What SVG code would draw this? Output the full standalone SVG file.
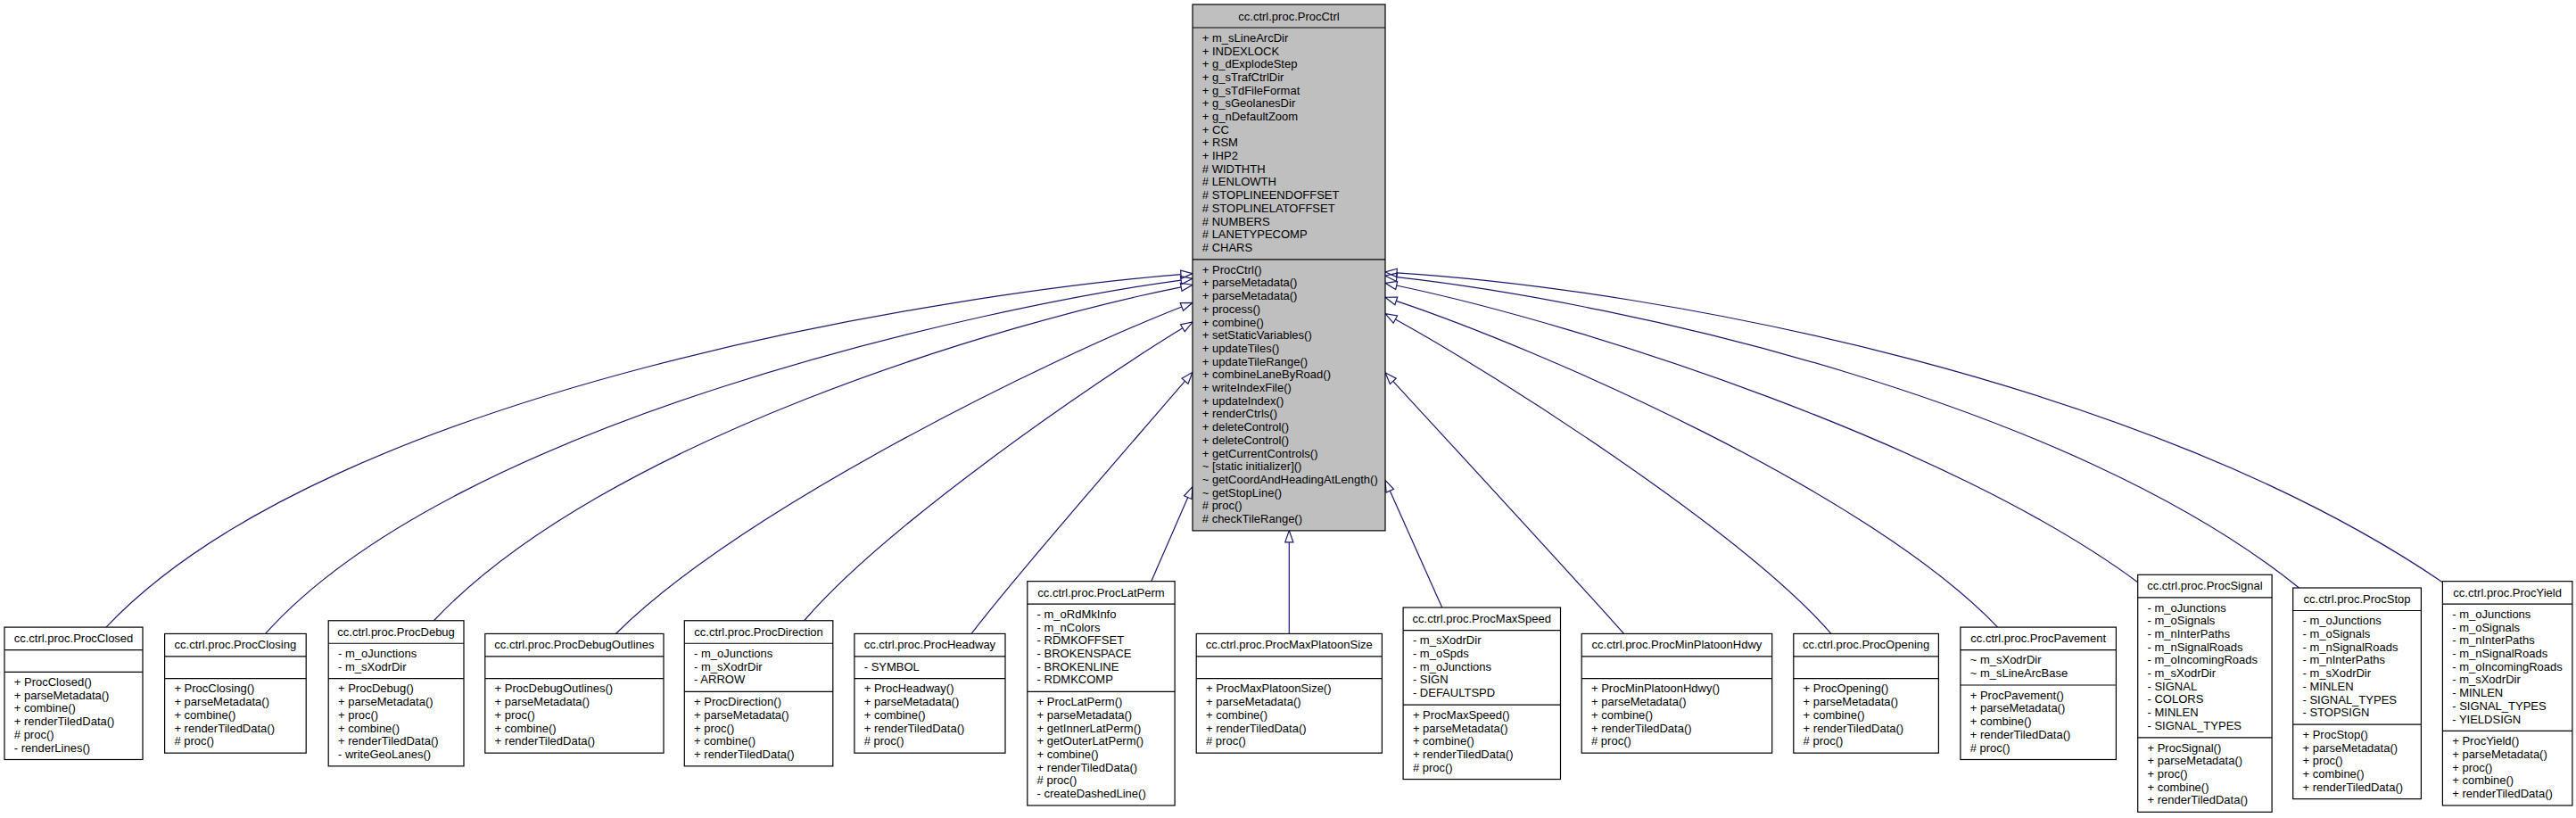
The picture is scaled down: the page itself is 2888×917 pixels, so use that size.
<svg xmlns="http://www.w3.org/2000/svg" width="2888" height="917" viewBox="0 0 2888 917">
<style>
.box{fill:#fff;stroke:#000;stroke-width:1.2}
.base{fill:#bfbfbf;stroke:#000;stroke-width:1.2}
.sep{stroke:#000;stroke-width:1.2}
text{font-family:"Liberation Sans",Arial,Helvetica,sans-serif;font-size:13px;fill:#000}
.t{text-anchor:middle}
.e{fill:none;stroke:#191970;stroke-width:1.2;marker-end:url(#tri)}
</style>
<defs>
<marker id="tri" markerUnits="userSpaceOnUse" markerWidth="16" markerHeight="12" viewBox="-1 -6 16 12" refX="0" refY="0" orient="auto" overflow="visible">
<path d="M0,-4.6 L13,0 L0,4.6 Z" fill="none" stroke="#191970" stroke-width="1.2"/>
</marker>
</defs>
<rect width="2888" height="917" fill="#fff"/>
<g id="connectors">
<path class="e" d="M119,703.1 C373,434 1075,327.7 1324,307.7"/>
<path class="e" d="M297.5,710.45 C510.6,472 1106,343.8 1324.1,314.1"/>
<path class="e" d="M486.4,695.75 C678.5,492.4 1128,361 1324.2,321.8"/>
<path class="e" d="M690.4,710.45 C832.6,569.9 1175.8,402.1 1324.9,344"/>
<path class="e" d="M901.6,695.75 C992.6,589.6 1223.4,430.3 1325.9,367.8"/>
<path class="e" d="M1089.1,710.45 C1143.5,639 1270,495.6 1328.5,427.2"/>
<path class="e" d="M1290.7,651.65 L1331.8,557.6"/>
<path class="e" d="M1445.3,710.45 L1445.3,607.9"/>
<path class="e" d="M1616.7,681.05 L1558.3,550.2"/>
<path class="e" d="M1820.6,710.45 C1760.9,643.3 1622.6,493.6 1561.8,427.3"/>
<path class="e" d="M2052.9,710.45 C1954.9,597.1 1678.3,420.7 1564.4,358"/>
<path class="e" d="M2239.6,703.1 C2094.7,551.3 1726.5,391.5 1565.3,337.4"/>
<path class="e" d="M2396.7,652.7 C2187.7,498 1781.1,365.3 1565.7,320"/>
<path class="e" d="M2577.5,659 C2321.1,451.7 1824.3,339.6 1565.9,310.7"/>
<path class="e" d="M2738.4,652.7 C2408,427.9 1865.4,325 1566,305.8"/>
</g>
<g id="ProcCtrl" transform="translate(1337,5)">
<rect class="base" width="216" height="589.9"/>
<line class="sep" x1="0" y1="26" x2="216" y2="26"/>
<line class="sep" x1="0" y1="285.9" x2="216" y2="285.9"/>
<text class="t" x="108" y="17.5">cc.ctrl.proc.ProcCtrl</text>
<text x="10.8" y="41.8">+ m_sLineArcDir<tspan x="10.8" dy="14.7">+ INDEXLOCK</tspan><tspan x="10.8" dy="14.7">+ g_dExplodeStep</tspan><tspan x="10.8" dy="14.7">+ g_sTrafCtrlDir</tspan><tspan x="10.8" dy="14.7">+ g_sTdFileFormat</tspan><tspan x="10.8" dy="14.7">+ g_sGeolanesDir</tspan><tspan x="10.8" dy="14.7">+ g_nDefaultZoom</tspan><tspan x="10.8" dy="14.7">+ CC</tspan><tspan x="10.8" dy="14.7">+ RSM</tspan><tspan x="10.8" dy="14.7">+ IHP2</tspan><tspan x="10.8" dy="14.7"># WIDTHTH</tspan><tspan x="10.8" dy="14.7"># LENLOWTH</tspan><tspan x="10.8" dy="14.7"># STOPLINEENDOFFSET</tspan><tspan x="10.8" dy="14.7"># STOPLINELATOFFSET</tspan><tspan x="10.8" dy="14.7"># NUMBERS</tspan><tspan x="10.8" dy="14.7"># LANETYPECOMP</tspan><tspan x="10.8" dy="14.7"># CHARS</tspan></text>
<text x="10.8" y="301.7">+ ProcCtrl()<tspan x="10.8" dy="14.7">+ parseMetadata()</tspan><tspan x="10.8" dy="14.7">+ parseMetadata()</tspan><tspan x="10.8" dy="14.7">+ process()</tspan><tspan x="10.8" dy="14.7">+ combine()</tspan><tspan x="10.8" dy="14.7">+ setStaticVariables()</tspan><tspan x="10.8" dy="14.7">+ updateTiles()</tspan><tspan x="10.8" dy="14.7">+ updateTileRange()</tspan><tspan x="10.8" dy="14.7">+ combineLaneByRoad()</tspan><tspan x="10.8" dy="14.7">+ writeIndexFile()</tspan><tspan x="10.8" dy="14.7">+ updateIndex()</tspan><tspan x="10.8" dy="14.7">+ renderCtrls()</tspan><tspan x="10.8" dy="14.7">+ deleteControl()</tspan><tspan x="10.8" dy="14.7">+ deleteControl()</tspan><tspan x="10.8" dy="14.7">+ getCurrentControls()</tspan><tspan x="10.8" dy="14.7">~ [static initializer]()</tspan><tspan x="10.8" dy="14.7">~ getCoordAndHeadingAtLength()</tspan><tspan x="10.8" dy="14.7">~ getStopLine()</tspan><tspan x="10.8" dy="14.7"># proc()</tspan><tspan x="10.8" dy="14.7"># checkTileRange()</tspan></text>
</g>
<g id="ProcClosed" transform="translate(5,703.1)">
<rect class="box" width="155" height="148.4"/>
<line class="sep" x1="0" y1="25.5" x2="155" y2="25.5"/>
<line class="sep" x1="0" y1="50.2" x2="155" y2="50.2"/>
<text class="t" x="77.5" y="17">cc.ctrl.proc.ProcClosed</text>
<text x="10.8" y="66">+ ProcClosed()<tspan x="10.8" dy="14.7">+ parseMetadata()</tspan><tspan x="10.8" dy="14.7">+ combine()</tspan><tspan x="10.8" dy="14.7">+ renderTiledData()</tspan><tspan x="10.8" dy="14.7"># proc()</tspan><tspan x="10.8" dy="14.7">- renderLines()</tspan></text>
</g>
<g id="ProcClosing" transform="translate(184.6,710.45)">
<rect class="box" width="158.6" height="133.7"/>
<line class="sep" x1="0" y1="25.5" x2="158.6" y2="25.5"/>
<line class="sep" x1="0" y1="50.2" x2="158.6" y2="50.2"/>
<text class="t" x="79.3" y="17">cc.ctrl.proc.ProcClosing</text>
<text x="10.8" y="66">+ ProcClosing()<tspan x="10.8" dy="14.7">+ parseMetadata()</tspan><tspan x="10.8" dy="14.7">+ combine()</tspan><tspan x="10.8" dy="14.7">+ renderTiledData()</tspan><tspan x="10.8" dy="14.7"># proc()</tspan></text>
</g>
<g id="ProcDebug" transform="translate(368.2,695.75)">
<rect class="box" width="151.8" height="163.1"/>
<line class="sep" x1="0" y1="25.5" x2="151.8" y2="25.5"/>
<line class="sep" x1="0" y1="64.9" x2="151.8" y2="64.9"/>
<text class="t" x="75.9" y="17">cc.ctrl.proc.ProcDebug</text>
<text x="10.8" y="41.3">- m_oJunctions<tspan x="10.8" dy="14.7">- m_sXodrDir</tspan></text>
<text x="10.8" y="80.7">+ ProcDebug()<tspan x="10.8" dy="14.7">+ parseMetadata()</tspan><tspan x="10.8" dy="14.7">+ proc()</tspan><tspan x="10.8" dy="14.7">+ combine()</tspan><tspan x="10.8" dy="14.7">+ renderTiledData()</tspan><tspan x="10.8" dy="14.7">- writeGeoLanes()</tspan></text>
</g>
<g id="ProcDebugOutlines" transform="translate(543.8,710.45)">
<rect class="box" width="200.2" height="133.7"/>
<line class="sep" x1="0" y1="25.5" x2="200.2" y2="25.5"/>
<line class="sep" x1="0" y1="50.2" x2="200.2" y2="50.2"/>
<text class="t" x="100.1" y="17">cc.ctrl.proc.ProcDebugOutlines</text>
<text x="10.8" y="66">+ ProcDebugOutlines()<tspan x="10.8" dy="14.7">+ parseMetadata()</tspan><tspan x="10.8" dy="14.7">+ proc()</tspan><tspan x="10.8" dy="14.7">+ combine()</tspan><tspan x="10.8" dy="14.7">+ renderTiledData()</tspan></text>
</g>
<g id="ProcDirection" transform="translate(767.3,695.75)">
<rect class="box" width="166.5" height="163.1"/>
<line class="sep" x1="0" y1="25.5" x2="166.5" y2="25.5"/>
<line class="sep" x1="0" y1="79.6" x2="166.5" y2="79.6"/>
<text class="t" x="83.25" y="17">cc.ctrl.proc.ProcDirection</text>
<text x="10.8" y="41.3">- m_oJunctions<tspan x="10.8" dy="14.7">- m_sXodrDir</tspan><tspan x="10.8" dy="14.7">- ARROW</tspan></text>
<text x="10.8" y="95.4">+ ProcDirection()<tspan x="10.8" dy="14.7">+ parseMetadata()</tspan><tspan x="10.8" dy="14.7">+ proc()</tspan><tspan x="10.8" dy="14.7">+ combine()</tspan><tspan x="10.8" dy="14.7">+ renderTiledData()</tspan></text>
</g>
<g id="ProcHeadway" transform="translate(957.9,710.45)">
<rect class="box" width="169.1" height="133.7"/>
<line class="sep" x1="0" y1="25.5" x2="169.1" y2="25.5"/>
<line class="sep" x1="0" y1="50.2" x2="169.1" y2="50.2"/>
<text class="t" x="84.55" y="17">cc.ctrl.proc.ProcHeadway</text>
<text x="10.8" y="41.3">- SYMBOL</text>
<text x="10.8" y="66">+ ProcHeadway()<tspan x="10.8" dy="14.7">+ parseMetadata()</tspan><tspan x="10.8" dy="14.7">+ combine()</tspan><tspan x="10.8" dy="14.7">+ renderTiledData()</tspan><tspan x="10.8" dy="14.7"># proc()</tspan></text>
</g>
<g id="ProcLatPerm" transform="translate(1151.8,651.65)">
<rect class="box" width="165.3" height="251.3"/>
<line class="sep" x1="0" y1="25.5" x2="165.3" y2="25.5"/>
<line class="sep" x1="0" y1="123.7" x2="165.3" y2="123.7"/>
<text class="t" x="82.65" y="17">cc.ctrl.proc.ProcLatPerm</text>
<text x="10.8" y="41.3">- m_oRdMkInfo<tspan x="10.8" dy="14.7">- m_nColors</tspan><tspan x="10.8" dy="14.7">- RDMKOFFSET</tspan><tspan x="10.8" dy="14.7">- BROKENSPACE</tspan><tspan x="10.8" dy="14.7">- BROKENLINE</tspan><tspan x="10.8" dy="14.7">- RDMKCOMP</tspan></text>
<text x="10.8" y="139.5">+ ProcLatPerm()<tspan x="10.8" dy="14.7">+ parseMetadata()</tspan><tspan x="10.8" dy="14.7">+ getInnerLatPerm()</tspan><tspan x="10.8" dy="14.7">+ getOuterLatPerm()</tspan><tspan x="10.8" dy="14.7">+ combine()</tspan><tspan x="10.8" dy="14.7">+ renderTiledData()</tspan><tspan x="10.8" dy="14.7"># proc()</tspan><tspan x="10.8" dy="14.7">- createDashedLine()</tspan></text>
</g>
<g id="ProcMaxPlatoonSize" transform="translate(1341.2,710.45)">
<rect class="box" width="208.2" height="133.7"/>
<line class="sep" x1="0" y1="25.5" x2="208.2" y2="25.5"/>
<line class="sep" x1="0" y1="50.2" x2="208.2" y2="50.2"/>
<text class="t" x="104.1" y="17">cc.ctrl.proc.ProcMaxPlatoonSize</text>
<text x="10.8" y="66">+ ProcMaxPlatoonSize()<tspan x="10.8" dy="14.7">+ parseMetadata()</tspan><tspan x="10.8" dy="14.7">+ combine()</tspan><tspan x="10.8" dy="14.7">+ renderTiledData()</tspan><tspan x="10.8" dy="14.7"># proc()</tspan></text>
</g>
<g id="ProcMaxSpeed" transform="translate(1573.1,681.05)">
<rect class="box" width="176.4" height="192.5"/>
<line class="sep" x1="0" y1="25.5" x2="176.4" y2="25.5"/>
<line class="sep" x1="0" y1="109" x2="176.4" y2="109"/>
<text class="t" x="88.2" y="17">cc.ctrl.proc.ProcMaxSpeed</text>
<text x="10.8" y="41.3">- m_sXodrDir<tspan x="10.8" dy="14.7">- m_oSpds</tspan><tspan x="10.8" dy="14.7">- m_oJunctions</tspan><tspan x="10.8" dy="14.7">- SIGN</tspan><tspan x="10.8" dy="14.7">- DEFAULTSPD</tspan></text>
<text x="10.8" y="124.8">+ ProcMaxSpeed()<tspan x="10.8" dy="14.7">+ parseMetadata()</tspan><tspan x="10.8" dy="14.7">+ combine()</tspan><tspan x="10.8" dy="14.7">+ renderTiledData()</tspan><tspan x="10.8" dy="14.7"># proc()</tspan></text>
</g>
<g id="ProcMinPlatoonHdwy" transform="translate(1773.2,710.45)">
<rect class="box" width="213.5" height="133.7"/>
<line class="sep" x1="0" y1="25.5" x2="213.5" y2="25.5"/>
<line class="sep" x1="0" y1="50.2" x2="213.5" y2="50.2"/>
<text class="t" x="106.75" y="17">cc.ctrl.proc.ProcMinPlatoonHdwy</text>
<text x="10.8" y="66">+ ProcMinPlatoonHdwy()<tspan x="10.8" dy="14.7">+ parseMetadata()</tspan><tspan x="10.8" dy="14.7">+ combine()</tspan><tspan x="10.8" dy="14.7">+ renderTiledData()</tspan><tspan x="10.8" dy="14.7"># proc()</tspan></text>
</g>
<g id="ProcOpening" transform="translate(2010.8,710.45)">
<rect class="box" width="162.6" height="133.7"/>
<line class="sep" x1="0" y1="25.5" x2="162.6" y2="25.5"/>
<line class="sep" x1="0" y1="50.2" x2="162.6" y2="50.2"/>
<text class="t" x="81.3" y="17">cc.ctrl.proc.ProcOpening</text>
<text x="10.8" y="66">+ ProcOpening()<tspan x="10.8" dy="14.7">+ parseMetadata()</tspan><tspan x="10.8" dy="14.7">+ combine()</tspan><tspan x="10.8" dy="14.7">+ renderTiledData()</tspan><tspan x="10.8" dy="14.7"># proc()</tspan></text>
</g>
<g id="ProcPavement" transform="translate(2197.9,703.1)">
<rect class="box" width="174.5" height="148.4"/>
<line class="sep" x1="0" y1="25.5" x2="174.5" y2="25.5"/>
<line class="sep" x1="0" y1="64.9" x2="174.5" y2="64.9"/>
<text class="t" x="87.25" y="17">cc.ctrl.proc.ProcPavement</text>
<text x="10.8" y="41.3">~ m_sXodrDir<tspan x="10.8" dy="14.7">~ m_sLineArcBase</tspan></text>
<text x="10.8" y="80.7">+ ProcPavement()<tspan x="10.8" dy="14.7">+ parseMetadata()</tspan><tspan x="10.8" dy="14.7">+ combine()</tspan><tspan x="10.8" dy="14.7">+ renderTiledData()</tspan><tspan x="10.8" dy="14.7"># proc()</tspan></text>
</g>
<g id="ProcSignal" transform="translate(2396.7,644.3)">
<rect class="box" width="150.4" height="266"/>
<line class="sep" x1="0" y1="25.5" x2="150.4" y2="25.5"/>
<line class="sep" x1="0" y1="182.5" x2="150.4" y2="182.5"/>
<text class="t" x="75.2" y="17">cc.ctrl.proc.ProcSignal</text>
<text x="10.8" y="41.3">- m_oJunctions<tspan x="10.8" dy="14.7">- m_oSignals</tspan><tspan x="10.8" dy="14.7">- m_nInterPaths</tspan><tspan x="10.8" dy="14.7">- m_nSignalRoads</tspan><tspan x="10.8" dy="14.7">- m_oIncomingRoads</tspan><tspan x="10.8" dy="14.7">- m_sXodrDir</tspan><tspan x="10.8" dy="14.7">- SIGNAL</tspan><tspan x="10.8" dy="14.7">- COLORS</tspan><tspan x="10.8" dy="14.7">- MINLEN</tspan><tspan x="10.8" dy="14.7">- SIGNAL_TYPES</tspan></text>
<text x="10.8" y="198.3">+ ProcSignal()<tspan x="10.8" dy="14.7">+ parseMetadata()</tspan><tspan x="10.8" dy="14.7">+ proc()</tspan><tspan x="10.8" dy="14.7">+ combine()</tspan><tspan x="10.8" dy="14.7">+ renderTiledData()</tspan></text>
</g>
<g id="ProcStop" transform="translate(2570.7,659)">
<rect class="box" width="143.7" height="236.6"/>
<line class="sep" x1="0" y1="25.5" x2="143.7" y2="25.5"/>
<line class="sep" x1="0" y1="153.1" x2="143.7" y2="153.1"/>
<text class="t" x="71.85" y="17">cc.ctrl.proc.ProcStop</text>
<text x="10.8" y="41.3">- m_oJunctions<tspan x="10.8" dy="14.7">- m_oSignals</tspan><tspan x="10.8" dy="14.7">- m_nSignalRoads</tspan><tspan x="10.8" dy="14.7">- m_nInterPaths</tspan><tspan x="10.8" dy="14.7">- m_sXodrDir</tspan><tspan x="10.8" dy="14.7">- MINLEN</tspan><tspan x="10.8" dy="14.7">- SIGNAL_TYPES</tspan><tspan x="10.8" dy="14.7">- STOPSIGN</tspan></text>
<text x="10.8" y="168.9">+ ProcStop()<tspan x="10.8" dy="14.7">+ parseMetadata()</tspan><tspan x="10.8" dy="14.7">+ proc()</tspan><tspan x="10.8" dy="14.7">+ combine()</tspan><tspan x="10.8" dy="14.7">+ renderTiledData()</tspan></text>
</g>
<g id="ProcYield" transform="translate(2738.4,651.65)">
<rect class="box" width="145.5" height="251.3"/>
<line class="sep" x1="0" y1="25.5" x2="145.5" y2="25.5"/>
<line class="sep" x1="0" y1="167.8" x2="145.5" y2="167.8"/>
<text class="t" x="72.75" y="17">cc.ctrl.proc.ProcYield</text>
<text x="10.8" y="41.3">- m_oJunctions<tspan x="10.8" dy="14.7">- m_oSignals</tspan><tspan x="10.8" dy="14.7">- m_nInterPaths</tspan><tspan x="10.8" dy="14.7">- m_nSignalRoads</tspan><tspan x="10.8" dy="14.7">- m_oIncomingRoads</tspan><tspan x="10.8" dy="14.7">- m_sXodrDir</tspan><tspan x="10.8" dy="14.7">- MINLEN</tspan><tspan x="10.8" dy="14.7">- SIGNAL_TYPES</tspan><tspan x="10.8" dy="14.7">- YIELDSIGN</tspan></text>
<text x="10.8" y="183.6">+ ProcYield()<tspan x="10.8" dy="14.7">+ parseMetadata()</tspan><tspan x="10.8" dy="14.7">+ proc()</tspan><tspan x="10.8" dy="14.7">+ combine()</tspan><tspan x="10.8" dy="14.7">+ renderTiledData()</tspan></text>
</g>
</svg>
